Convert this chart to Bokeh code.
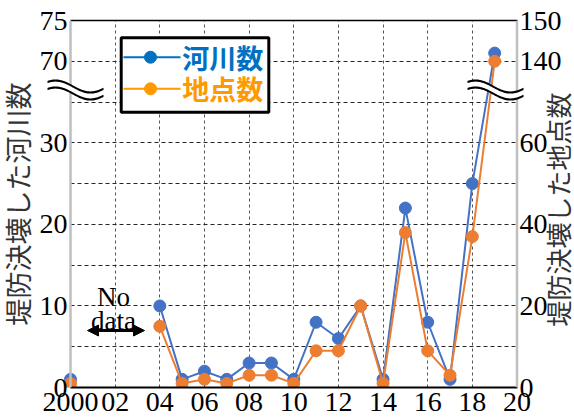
import math
import numpy as np
from bokeh.plotting import figure
from bokeh.models import (LinearAxis, FixedTicker, Range1d, ColumnDataSource, Label,
                          Span, PolyAnnotation, Arrow, NormalHead)
from bokeh.core.properties import value
from bokeh.embed import file_html
from bokeh.resources import INLINE

NaN = float("nan")

# ---------------- data ----------------
years = list(range(2000, 2020))
rivers = [1, NaN, NaN, NaN, 10, 1, 2, 1, 3, 3, 1, 8, 6, 10, 1, 22, 8, 1, 25, 71]      # 河川数 (left)
points = [1, NaN, NaN, NaN, 15, 1, 2, 1, 3, 3, 1, 9, 9, 20, 1, 38, 9, 3, 37, 140]     # 地点数 (right)

x_ticks = list(range(2000, 2021, 2))
x_tick_labels = ["2000", "02", "04", "06", "08", "10", "12", "14", "16", "18", "20"]
left_tick_values = [0, 10, 20, 30, 70, 75]
left_tick_labels = ["0", "10", "20", "30", "70", "75"]
right_tick_labels = ["0", "20", "40", "60", "140", "150"]
series_names = ["河川数", "地点数"]
axis_titles = ["堤防決壊した河川数", "堤防決壊した地点数"]

# broken axis: the span 35..70 (left units) is collapsed to one grid step
BREAK_LO, BREAK_HI, GAP = 35, 70, 5
def brk(v):
    if v != v:
        return v
    return v if v <= BREAK_LO else v - (BREAK_HI - BREAK_LO - GAP)

BLUE, ORANGE = "#4472C4", "#ED7D31"
LEG_BLUE, LEG_ORANGE = "#0070C0", "#FF9900"
SERIF = "Liberation Serif"
JP = "Noto Sans CJK JP"
JP_STACK = "Liberation Sans, Noto Sans CJK JP"
AXIS_GRAY = "#BFBFBF"
TITLE_GRAY = "#333333"

# reference-pixel helpers for annotation placement (frame: x 70..516.5, y 387..20)
def px2x(px):
    return 2000 + (px - 70) / 22.325
def px2y(py):
    return (387 - py) / 8.156

X0, X1 = 2000, 2020
p = figure(width=574, height=417,
           x_range=Range1d(1998.88, px2x(574)), y_range=Range1d(0, brk(75)),
           output_backend="svg", toolbar_location=None,
           min_border_left=45, min_border_right=0, min_border_top=20, min_border_bottom=30)
p.outline_line_color = None
p.background_fill_color = "white"
p.border_fill_color = "white"

# bottom x axis
xax = p.xaxis[0]
xax.ticker = FixedTicker(ticks=x_ticks)
xax.major_label_overrides = {t: l for t, l in zip(x_ticks, x_tick_labels)}
xax.bounds = (X0, X1)
xax.major_label_text_font = SERIF
xax.major_label_text_font_size = "28px"
xax.major_label_text_color = "black"
xax.major_label_standoff = -1
xax.major_tick_line_color = None
xax.minor_tick_line_color = None
xax.axis_line_color = "black"
xax.axis_line_width = 2

# top border line
top = LinearAxis(ticker=FixedTicker(ticks=[]), bounds=(X0, X1), axis_line_color="black",
                 axis_line_width=1.5, major_tick_line_color=None, minor_tick_line_color=None)
p.add_layout(top, "above")

# y axes
disp_ticks = [brk(v) for v in left_tick_values]
lax = p.yaxis[0]
lax.ticker = FixedTicker(ticks=disp_ticks)
lax.major_label_overrides = {t: l for t, l in zip(disp_ticks, left_tick_labels)}
lax.major_label_standoff = -22
lax.axis_label = axis_titles[0]
lax.axis_label_standoff = 2
lax.axis_label_text_font = JP_STACK
lax.axis_label_text_font_size = "27px"
lax.axis_label_text_font_style = "normal"
lax.axis_label_text_color = TITLE_GRAY
raxis = LinearAxis(ticker=FixedTicker(ticks=disp_ticks),
                   major_label_overrides={t: l for t, l in zip(disp_ticks, right_tick_labels)})
raxis.major_label_standoff = -55
p.add_layout(raxis, "right")
for ax in (lax, raxis):
    ax.axis_line_color = None
    ax.major_tick_out = 0
    ax.major_tick_in = 0
    ax.minor_tick_out = 0
    ax.minor_tick_in = 0
    ax.major_tick_line_color = None
    ax.minor_tick_line_color = None
    ax.major_label_text_font = SERIF
    ax.major_label_text_font_size = "28px"
    ax.major_label_text_color = "black"

# right-hand title (reads bottom-to-top like the left one)
p.add_layout(Label(x=px2x(559), y=px2y(209), text=axis_titles[1], angle=math.pi / 2,
                   text_align="center", text_baseline="middle", text_font=JP_STACK,
                   text_font_size="26px", text_color=TITLE_GRAY))

# grids
p.xgrid.ticker = FixedTicker(ticks=x_ticks[1:-1])
p.xgrid.grid_line_color = "#555555"
p.xgrid.grid_line_dash = "3 3"
p.xgrid.grid_line_width = 1
p.ygrid.ticker = FixedTicker(ticks=[5, 10, 15, 20, 25, 30, 35, 40])
p.ygrid.cross_bounds = (X0, X1)
p.ygrid.grid_line_color = "#262626"
p.ygrid.grid_line_dash = "4 3"
p.ygrid.grid_line_width = 1

# vertical axis lines (grey) at the data edges
for loc in (X0, X1):
    p.add_layout(Span(location=loc, dimension="height", line_color=AXIS_GRAY, line_width=2.5))

# series
src = ColumnDataSource(dict(
    x=years,
    r=[brk(v) for v in rivers],
    pt=[brk(v / 2) for v in points],
))
p.line("x", "r", source=src, line_color=BLUE, line_width=2)
p.scatter("x", "r", source=src, size=12, fill_color=BLUE, line_color=BLUE)
p.line("x", "pt", source=src, line_color=ORANGE, line_width=2)
p.scatter("x", "pt", source=src, size=12, fill_color=ORANGE, line_color=ORANGE)

# legend (manual, two coloured labels)
p.quad(left=[px2x(120.7)], right=[px2x(268.3)], bottom=[px2y(111.7)], top=[px2y(37.3)],
       fill_color="white", line_color="black", line_width=3)
for py, col, name in [(56.7, LEG_BLUE, series_names[0]), (88.3, LEG_ORANGE, series_names[1])]:
    yy = px2y(py)
    p.line([px2x(123), px2x(180)], [yy, yy], line_color=col, line_width=2)
    p.scatter([px2x(150)], [yy], size=12, fill_color=col, line_color=col)
    p.text([px2x(181.7)], [yy], text=[name], text_font=value(JP), text_font_style="bold",
           text_font_size="27px", text_color=col, text_align="left", text_baseline="middle")

# "No data" note
p.add_layout(Label(x=px2x(113), y=px2y(296.5), text="No", text_align="center",
                   text_baseline="alphabetic", text_font=SERIF, text_font_size="27px",
                   text_color="black"))
p.add_layout(Label(x=px2x(113), y=px2y(320), text="data", text_align="center",
                   text_baseline="alphabetic", text_font=SERIF, text_font_size="27px",
                   text_color="black"))
p.add_layout(Arrow(start=NormalHead(size=11, fill_color="black", line_color="black"),
                   end=NormalHead(size=11, fill_color="black", line_color="black"),
                   x_start=px2x(87), y_start=px2y(330), x_end=px2x(144), y_end=px2y(330),
                   line_color="black", line_width=3))

# break marks (≈) on both axes
def wave(xs, off):
    return 86 + off - 6 * np.cos(2 * np.pi * (xs - 55) / 70)

for shift in (0, 420):
    xs = np.linspace(47, 103, 50)
    up = wave(xs, 0)
    lo = wave(xs, 7)
    X = [px2x(v + shift) for v in xs]
    Xr = X[::-1]
    band_y = [px2y(v) for v in up] + [px2y(v) for v in lo[::-1]]
    p.add_layout(PolyAnnotation(xs=X + Xr, ys=band_y, fill_color="white", fill_alpha=1,
                                line_color=None))
    for curve in (up, lo):
        ys = [px2y(v - 1.1) for v in curve] + [px2y(v + 1.1) for v in curve[::-1]]
        p.add_layout(PolyAnnotation(xs=X + Xr, ys=ys, fill_color="black", fill_alpha=1,
                                    line_color=None))

open("out.html", "w").write(file_html(p, INLINE))
